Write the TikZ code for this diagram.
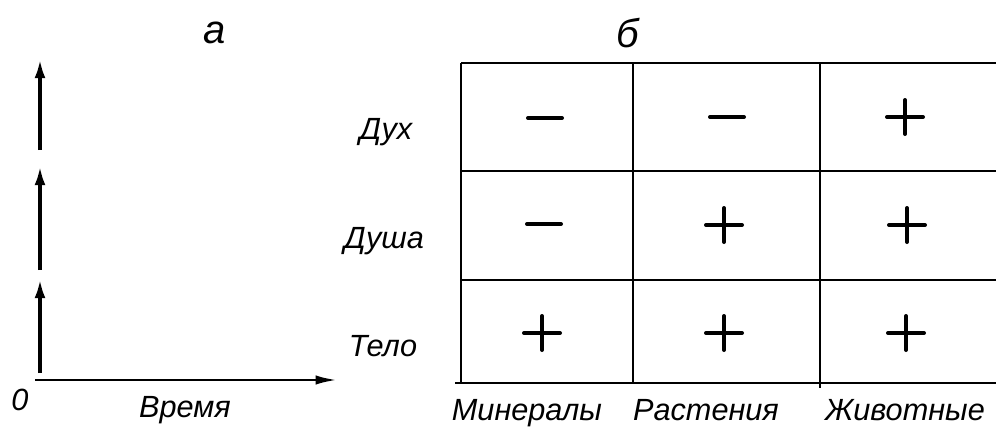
\documentclass[tikz,border=0pt]{standalone}
\usepackage{fontspec}
\setmainfont{Liberation Sans}
\usetikzlibrary{arrows.meta}
\begin{document}
\begin{tikzpicture}[x=0.75pt,y=-0.75pt,
  lbl/.style={font=\fontsize{23}{26}\selectfont\itshape, inner sep=0pt},
  big/.style={font=\fontsize{30}{32}\selectfont\itshape, inner sep=0pt},
  grid/.style={line width=2pt},
  vec/.style={line width=3pt,-{Latex[length=15pt,width=8pt]}},
  sym/.style={line width=3pt,line cap=round}]
\useasboundingbox (0,0) rectangle (996,432);
% panel a
\node[big] (la) at (215,33) {а};
\coordinate (a1s) at (40,373); \coordinate (a1e) at (40,278);
\coordinate (a2s) at (40,270); \coordinate (a2e) at (40,165);
\coordinate (a3s) at (40,150); \coordinate (a3e) at (40,58);
\draw[vec] (a1s) -- (a1e);
\draw[vec] (a2s) -- (a2e);
\draw[vec] (a3s) -- (a3e);
\coordinate (o) at (35,380); \coordinate (xe) at (337,380);
\draw[line width=2pt,-{Latex[length=16pt,width=7pt]}] (o) -- (xe);
\node[lbl,anchor=base] (zero) at (20,410) {0};
\node[lbl,anchor=base] (time) at (185,417) {Время};
% panel b
\node[big] (lb) at (628,33) {б};
\draw[grid] (461,63) -- (996,63);
\draw[grid] (461,171) -- (996,171);
\draw[grid] (461,280) -- (996,280);
\draw[grid] (455,383) -- (996,383);
\draw[grid] (461,63) -- (461,383);
\draw[grid] (633,63) -- (633,383);
\draw[grid] (820,63) -- (820,388);
\node[lbl,anchor=base] (r1) at (386,139) {Дух};
\node[lbl,anchor=base] (r2) at (384,248) {Душа};
\node[lbl,anchor=base] (r3) at (383,356) {Тело};
\node[lbl,anchor=base] (c1) at (527,420) {Минералы};
\node[lbl,anchor=base] (c2) at (706,420) {Растения};
\node[lbl,anchor=base] (c3) at (905,420) {Животные};
% symbols
\newcommand{\mminus}[2]{\draw[sym] (#1-17,#2) -- (#1+17,#2);}
\newcommand{\pplus}[2]{\draw[sym] (#1-18,#2) -- (#1+18,#2); \draw[sym] (#1,#2-17) -- (#1,#2+17);}
\mminus{545}{118}
\mminus{727}{117}
\pplus{905}{117}
\mminus{544}{224}
\pplus{724}{225}
\pplus{907}{225}
\pplus{542}{333}
\pplus{724}{333}
\pplus{906}{333}
\end{tikzpicture}
\end{document}
